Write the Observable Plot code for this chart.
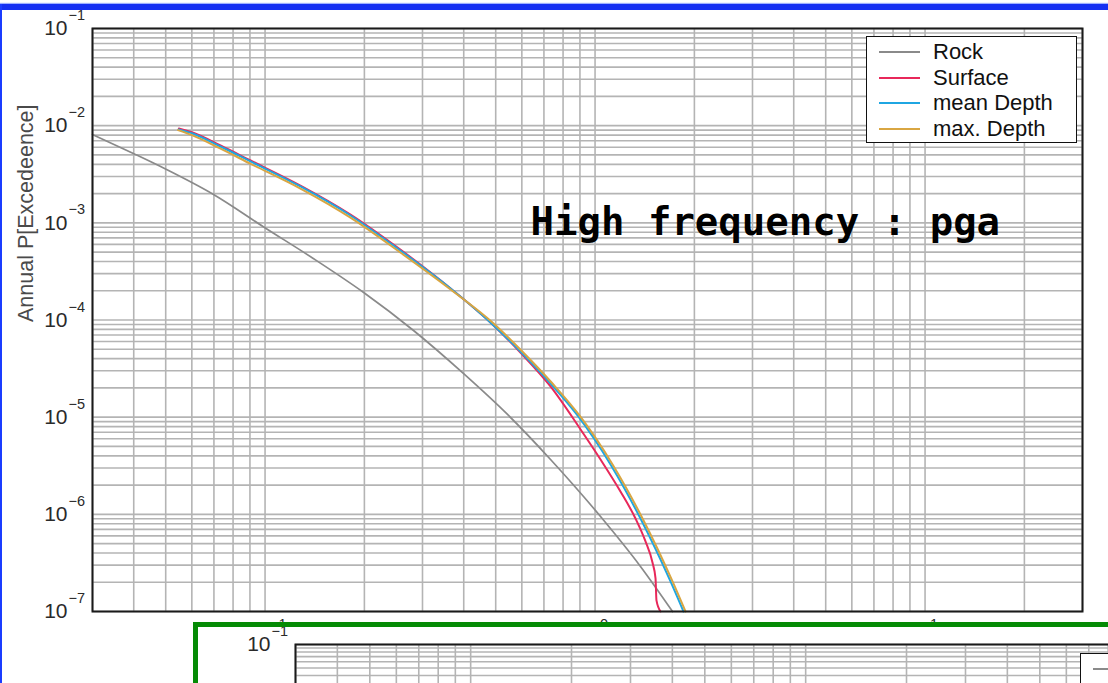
<!DOCTYPE html>
<html>
<head>
<meta charset="utf-8">
<script src="https://cdn.jsdelivr.net/npm/d3@7"></script>
<script src="https://cdn.jsdelivr.net/npm/@observablehq/plot@0.6"></script>
<style>
  html, body { margin: 0; padding: 0; background: #fff; width: 1108px; height: 683px; overflow: hidden; }
  #page { position: relative; width: 1108px; height: 683px; overflow: hidden; font-family: "Liberation Sans", Arial, sans-serif; }
  #page svg { max-width: none; }
  #chart { position: absolute; left: 0; top: 0; }
  .legend { position: absolute; background: #fff; border: 1.5px solid #111; box-sizing: border-box; }
  .legend .row { position: absolute; left: 0; height: 24px; display: flex; align-items: center; white-space: nowrap; }
  .legend .swatch { width: 41px; height: 0; border-top: 2px solid; margin-left: 12px; margin-right: 13px; }
  .legend .label { font-size: 22px; color: #111; line-height: 24px; }
  #legend { left: 866px; top: 36px; width: 211px; height: 107px; }
  #inset { position: absolute; left: 193px; top: 622px; width: 1000px; height: 200px; border: 5px solid #058b05; background: #fff; overflow: hidden; }
  #chart2 { position: absolute; left: 0; top: 0; }
  #legend2 { left: 882px; top: 26px; width: 211px; height: 107px; }
  .bar-top { position: absolute; left: 0; top: 4px; width: 1108px; height: 6px; background: #1530f2; box-shadow: 0 -1px 1px #9fb0ff; }
  .bar-left { position: absolute; left: 0; top: 4px; width: 2px; height: 679px; background: #1a3cff; }
</style>
</head>
<body>
<div id="page">
  <div id="chart"></div>
  <div id="legend" class="legend"></div>
  <div id="inset">
    <div id="chart2"></div>
    <div id="legend2" class="legend"></div>
  </div>
  <div class="bar-top"></div>
  <div class="bar-left"></div>
</div>
<script>
// Hazard curves: peak ground acceleration (g) vs annual probability of exceedance
const seriesNames = ["Rock", "Surface", "mean Depth", "max. Depth"];
const seriesColors = ["#8a8a8a", "#e8285a", "#1fa6e2", "#d9a642"];
const seriesWidths = [1.7, 2, 2, 2];

const rockPga = [0.03, 0.0399, 0.0496, 0.0698, 0.0996, 0.14, 0.199, 0.2818, 0.399, 0.543, 0.733, 1.039, 1.373, 1.717];
const rockProb = [8.11e-3, 5.17e-3, 3.62e-3, 1.957e-3, 8.96e-4, 4.30e-4, 1.92e-4, 7.80e-5, 2.82e-5, 1.066e-5, 3.67e-6, 9.50e-7, 2.91e-7, 1.0e-7];

const surfacePga = [0.0548, 0.0603, 0.0733, 0.0904, 0.128, 0.1815, 0.257, 0.365, 0.482, 0.594, 0.733, 0.904, 1.039, 1.194, 1.326, 1.422, 1.493, 1.525, 1.535, 1.579];
const surfaceProb = [9.35e-3, 8.51e-3, 6.25e-3, 4.38e-3, 2.42e-3, 1.218e-3, 5.31e-4, 2.11e-4, 9.43e-5, 4.63e-5, 2.07e-5, 7.47e-6, 3.67e-6, 1.72e-6, 9.06e-7, 5.26e-7, 3.19e-7, 2.19e-7, 1.30e-7, 1.0e-7];

const meanDepthPga = [0.0547, 0.0603, 0.0733, 0.0904, 0.128, 0.1815, 0.257, 0.365, 0.482, 0.594, 0.733, 0.885, 1.114, 1.373, 1.693, 1.854];
const meanDepthProb = [9.13e-3, 8.31e-3, 6.10e-3, 4.28e-3, 2.366e-3, 1.19e-3, 5.19e-4, 2.11e-4, 9.43e-5, 4.74e-5, 2.22e-5, 1.041e-5, 3.26e-6, 9.06e-7, 2.04e-7, 1.0e-7];

const maxDepthPga = [0.0545, 0.0603, 0.0733, 0.0904, 0.128, 0.1815, 0.257, 0.365, 0.489, 0.602, 0.743, 0.897, 1.13, 1.393, 1.717, 1.88];
const maxDepthProb = [9.0e-3, 7.95e-3, 5.8e-3, 4.05e-3, 2.25e-3, 1.13e-3, 4.95e-4, 2.06e-4, 9.43e-5, 4.74e-5, 2.22e-5, 1.041e-5, 3.26e-6, 9.06e-7, 2.04e-7, 1.0e-7];

// Axis ticks
const yTickValues = [1e-7, 1e-6, 1e-5, 1e-4, 1e-3, 1e-2, 1e-1];
const yTickExps = ["\u22127", "\u22126", "\u22125", "\u22124", "\u22123", "\u22122", "\u22121"];
const xTickValues = [0.1, 1, 10];
const xTickExps = ["\u22121", "0", "1"];
const yLabel = "Annual P[Excedeence]";
const note = "High frequency : pga";

const xDomain = [0.03, 30];
const yDomain = [1e-7, 1e-1];

// Log grid: every 1..9 multiple of each decade inside the domain
const gridSteps = [1, 2, 3, 4, 5, 6, 7, 8, 9];
const xDecades = [0.01, 0.1, 1, 10];
const yDecades = [1e-8, 1e-7, 1e-6, 1e-5, 1e-4, 1e-3, 1e-2, 1e-1];
const inside = (v, [a, b]) => v >= a * 0.999 && v <= b * 1.001;
const xGrid = xDecades.flatMap(d => gridSteps.map(s => s * d)).filter(v => inside(v, xDomain));
const yGrid = yDecades.flatMap(d => gridSteps.map(s => s * d)).filter(v => inside(v, yDomain));

const gridStroke = "#b4b4b4";
const font = "'Liberation Sans', Arial, sans-serif";

const toRows = (xs, ys) => xs.map((x, i) => ({pga: x, prob: ys[i]}));
const series = [
  toRows(rockPga, rockProb),
  toRows(surfacePga, surfaceProb),
  toRows(meanDepthPga, meanDepthProb),
  toRows(maxDepthPga, maxDepthProb)
];

function tickLabelMarks(values, exps, sizeMain, sizeSup) {
  return [
    Plot.text(values, {y: d => d, frameAnchor: "left", text: () => "10", textAnchor: "end", dx: -25, fontSize: sizeMain, fill: "#2a2a2a"}),
    Plot.text(values, {y: d => d, frameAnchor: "left", text: (d, i) => exps[i], textAnchor: "start", dx: -24, dy: -13, fontSize: sizeSup, fill: "#2a2a2a"})
  ];
}

const main = Plot.plot({
  width: 1108,
  height: 683,
  marginLeft: 92,
  marginRight: 26,
  marginTop: 28,
  marginBottom: 72,
  style: {background: "transparent", fontFamily: font, overflow: "visible"},
  x: {type: "log", domain: xDomain, axis: null},
  y: {type: "log", domain: yDomain, axis: null},
  marks: [
    Plot.ruleX(xGrid, {stroke: gridStroke, strokeWidth: 1.6}),
    Plot.ruleY(yGrid, {stroke: gridStroke, strokeWidth: 1.6}),
    ...series.map((rows, i) => Plot.line(rows, {
      x: "pga", y: "prob", stroke: seriesColors[i], strokeWidth: seriesWidths[i], curve: "monotone-x"
    })),
    Plot.frame({stroke: "#1a1a1a", strokeWidth: 2}),
    ...tickLabelMarks(yTickValues, yTickExps, 21, 14.5),
    Plot.text(xTickValues, {x: d => d, frameAnchor: "bottom", text: () => "10", textAnchor: "end", dx: 4, dy: 30, fontSize: 21, fill: "#2a2a2a"}),
    Plot.text(xTickValues, {x: d => d, frameAnchor: "bottom", text: (d, i) => xTickExps[i], textAnchor: "start", dx: 5, dy: 17, fontSize: 14.5, fill: "#2a2a2a"}),
    Plot.text([yLabel], {frameAnchor: "left", rotate: -90, dx: -66, dy: 2, fontSize: 21.5, fill: "#4a4a4a"}),
    Plot.text([note], {frameAnchor: "top-left", dx: 438, dy: 206, textAnchor: "start", lineAnchor: "bottom",
      fontSize: 39, fontWeight: "bold", fontFamily: "'DejaVu Sans Mono', monospace", fill: "#000"})
  ]
});
document.getElementById("chart").appendChild(main);

// Second chart below (only its top edge shows inside the green frame)
const second = Plot.plot({
  width: 1120,
  height: 525,
  marginLeft: 97,
  marginRight: 18,
  marginTop: 17,
  marginBottom: 40,
  style: {background: "transparent", fontFamily: font, overflow: "visible"},
  x: {type: "log", domain: xDomain, axis: null},
  y: {type: "log", domain: yDomain, axis: null},
  marks: [
    Plot.ruleX(xGrid, {stroke: gridStroke, strokeWidth: 1.6}),
    Plot.ruleY(yGrid, {stroke: gridStroke, strokeWidth: 1.6}),
    Plot.frame({stroke: "#1a1a1a", strokeWidth: 2}),
    ...tickLabelMarks(yTickValues, yTickExps, 21, 14.5)
  ]
});
document.getElementById("chart2").appendChild(second);

// Legends
function buildLegend(id) {
  const box = d3.select(id);
  seriesNames.forEach((name, i) => {
    const row = box.append("div").attr("class", "row").style("top", (3 + i * 25.5) + "px");
    row.append("div").attr("class", "swatch").style("border-top-color", seriesColors[i]);
    row.append("div").attr("class", "label").text(name);
  });
}
buildLegend("#legend");
buildLegend("#legend2");
</script>
</body>
</html>
